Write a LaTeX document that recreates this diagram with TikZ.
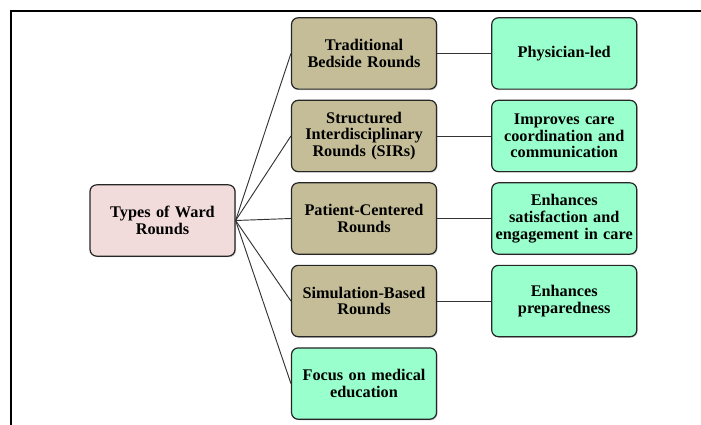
\documentclass[tikz,border=0pt]{standalone}
\usepackage{fontspec}
\setmainfont{Liberation Serif}
\usetikzlibrary{positioning,shadows}
\definecolor{rootpink}{HTML}{F2DCDB}
\definecolor{typetan}{HTML}{C4BD97}
\definecolor{notemint}{HTML}{99FFCC}
\tikzset{
	box/.style={draw=black!85, line width=0.9pt, rounded corners=5pt,
		minimum width=108.75pt, minimum height=53.5pt, text width=106pt,
		align=center, inner xsep=1pt, inner ysep=2pt, font=\bfseries\fontsize{12.2}{12.5}\selectfont,
		drop shadow={shadow xshift=0.8pt, shadow yshift=-0.8pt, opacity=0.35}},
	rootbox/.style={box, fill=rootpink},
	typebox/.style={box, fill=typetan},
	notebox/.style={box, fill=notemint},
	link/.style={draw=black!80, line width=0.7pt}
}

\begin{document}
\begin{tikzpicture}[x=0.75pt, y=-0.75pt]
		%%%%% START %%%%%
		\useasboundingbox (0, 0) rectangle (701, 425);
		\draw[line width=1.5pt] (701, 11) -- (11, 11) -- (11, 425);
		
		\node[rootbox] (types) at (162.5, 220.5) {Types of Ward\\Rounds};
		
		\node[typebox, right=41.5pt of types, yshift=1.5pt] (patient) {Patient-Centered\\Rounds};
		\node[typebox, above=7.5pt of patient] (sirs) {Structured\\Interdisciplinary\\Rounds (SIRs)};
		\node[typebox, above=7.5pt of sirs] (bedside) {Traditional\\Bedside Rounds};
		\node[typebox, below=7.5pt of patient] (simulation) {Simulation-Based\\Rounds};
		\node[notebox, below=7.5pt of simulation] (education) {Focus on medical\\education};
		
		\node[notebox, right=40.5pt of bedside] (physician) {Physician-led};
		\node[notebox, right=40.5pt of sirs] (coordination) {Improves care\\coordination and\\communication};
		\node[notebox, right=40.5pt of patient] (satisfaction) {Enhances\\satisfaction and\\engagement in care};
		\node[notebox, right=40.5pt of simulation] (preparedness) {Enhances\\preparedness};
		
		\foreach \t in {bedside, sirs, patient, simulation, education}
			\draw[link] (types.east) -- (\t.west);
		
		\draw[link] (bedside) -- (physician);
		\draw[link] (sirs) -- (coordination);
		\draw[link] (patient) -- (satisfaction);
		\draw[link] (simulation) -- (preparedness);
		%%%%% END %%%%%
\end{tikzpicture}
\end{document}
